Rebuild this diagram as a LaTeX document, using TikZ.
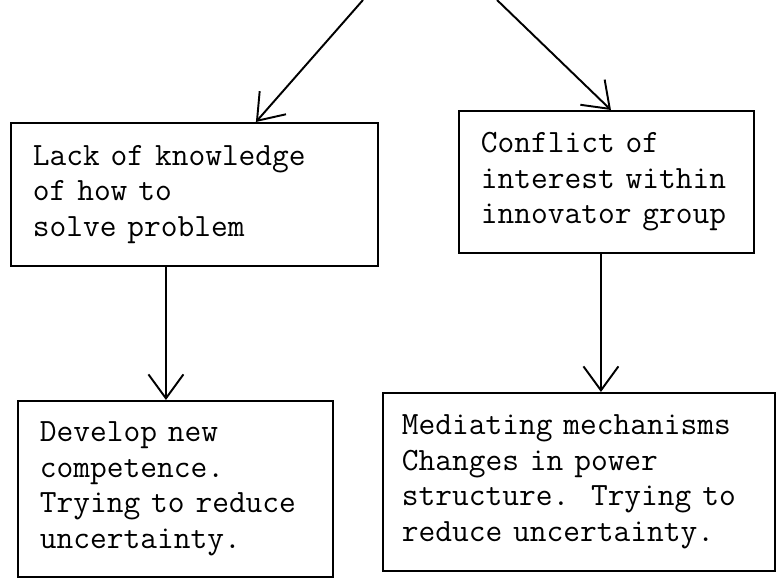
\documentclass[tikz,border=0pt]{standalone}
\usepackage{tikz}
\usetikzlibrary{arrows.meta}

\begin{document}
\begin{tikzpicture}[
    x=0.02cm, y=-0.02cm,
    box/.style={draw, rectangle, anchor=north west, align=left, line width=1.1pt,
                inner xsep=0.44cm, inner ysep=0pt,
                font=\ttfamily\fontsize{18.5}{20.2}\selectfont},
    arrow/.style={-{Straight Barb[length=0.48cm, width=0.7cm]}, line width=1.1pt}
]
\useasboundingbox (0,0) rectangle (783,580);

% ====================== PROBLEMS ======================
\node[box, text width=6.46cm, minimum height=2.86cm, yshift=-0.06cm] (lack) at (10,119)
    {Lack of knowledge\\of how to\\solve problem};
\node[box, text width=5.02cm, minimum height=2.84cm] (conflict) at (458,110)
    {Conflict of\\interest within\\innovator group};

% ====================== RESPONSES ======================
\node[box, text width=5.42cm, minimum height=3.52cm] (develop) at (17,400)
    {Develop new\\competence.\\Trying to reduce\\uncertainty.};
\node[box, text width=7.08cm, minimum height=3.56cm, inner xsep=0.38cm] (mediating) at (382,392)
    {Mediating mechanisms\\Changes in power\\structure.\ \ Trying to\\reduce uncertainty.};

% ====================== ARROWS ======================
\coordinate (srcL) at (363,0);
\coordinate (srcR) at (497,0);
\draw[arrow] (srcL) -- ([xshift=1.23cm]lack.north);
\draw[arrow] (srcR) -- ([xshift=0.09cm]conflict.north);
\draw[arrow] ([xshift=-0.57cm]lack.south) -- ([xshift=-0.57cm]lack.south |- develop.north);
\draw[arrow] ([xshift=-0.11cm]conflict.south) -- ([xshift=-0.11cm]conflict.south |- mediating.north);

\end{tikzpicture}
\end{document}
